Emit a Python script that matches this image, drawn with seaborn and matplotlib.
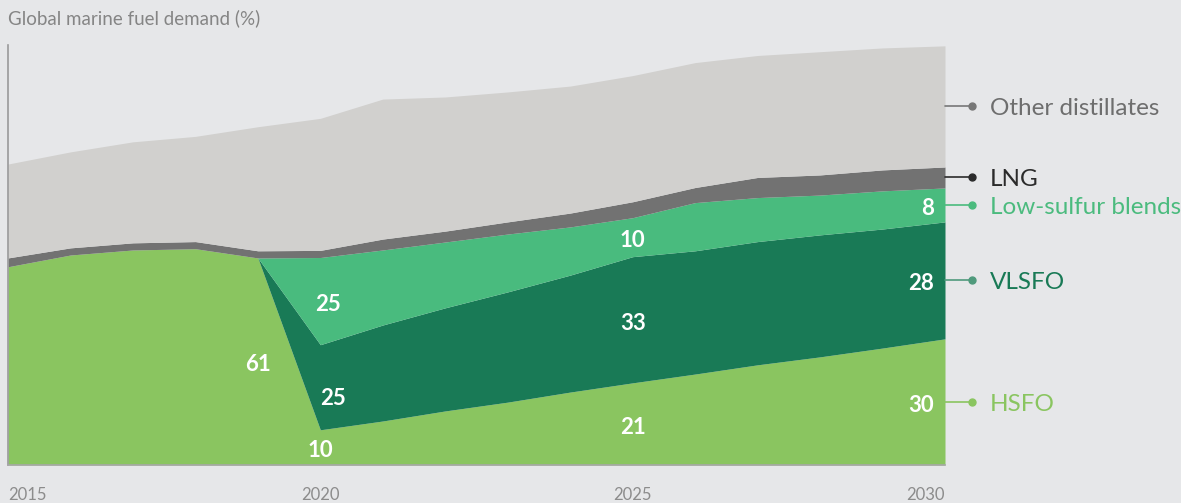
import numpy as np
import matplotlib
matplotlib.use("Agg")
import matplotlib.pyplot as plt
import seaborn as sns

# demand index (2030 total = 100)
years = np.arange(2015, 2031)
hsfo = [47.3, 50.1, 51.3, 51.6, 49.4, 8.4, 10.5, 12.9, 15.0, 17.4, 19.6, 21.7, 23.9, 25.8, 27.9, 30.1]
vlsfo = [0, 0, 0, 0, 0, 20.3, 22.9, 24.6, 26.3, 27.9, 30.1, 29.4, 29.4, 29.1, 28.4, 27.9]
ls_blends = [0, 0, 0, 0, 0, 20.8, 17.9, 15.7, 13.8, 11.5, 9.3, 11.5, 10.5, 9.5, 9.1, 8.1]
lng = [2.1, 1.7, 1.7, 1.7, 1.7, 1.7, 2.6, 2.6, 2.9, 3.3, 3.8, 3.6, 4.8, 4.8, 5.0, 5.0]
other = [22.4, 22.9, 24.1, 25.1, 29.6, 31.5, 33.4, 32.0, 31.0, 30.3, 30.1, 29.8, 29.1, 29.4, 29.1, 28.9]

series_names = ["HSFO", "VLSFO", "Low-sulfur blends", "LNG", "Other distillates"]
fill_colors = ["#8ac560", "#197a56", "#49bb7e", "#727272", "#d1d0ce"]
text_colors = ["#8ac560", "#197a56", "#4bbb7e", "#2b2b2b", "#6e6e6e"]
line_colors = ["#8ac560", "#4f9a7c", "#4bbb7e", "#2b2b2b", "#777777"]

# share labels (%): (series index, year, text)
share_labels = [
    (0, 2019, "61"),
    (1, 2020, "25"), (2, 2020, "25"), (0, 2020, "10"),
    (0, 2025, "21"), (1, 2025, "33"), (2, 2025, "10"),
    (0, 2030, "30"), (1, 2030, "28"), (2, 2030, "8"),
]
tick_years = [2015, 2020, 2025, 2030]

sns.set_theme(style="white")
plt.rcParams["font.family"] = ["Lato", "DejaVu Sans"]
bg = "#e6e7e9"

fig = plt.figure(figsize=(11.81, 5.03), dpi=100, facecolor=bg)
ax = fig.add_axes([8 / 1181, 38 / 503, 937 / 1181, 420 / 503])
ax.set_facecolor(bg)

data = np.array([hsfo, vlsfo, ls_blends, lng, other])
ax.stackplot(years, data, colors=fill_colors, linewidth=0)

ax.set_xlim(2015, 2030)
ax.set_ylim(0, 100.2)
ax.set_yticks([])
ax.set_xticks(tick_years)
ax.set_xticklabels([str(y) for y in tick_years], fontsize=12, color="#8c8c8c")
for lab, ha in zip(ax.get_xticklabels(), ["left", "center", "center", "right"]):
    lab.set_ha(ha)
ax.tick_params(axis="x", length=0, pad=16)

sns.despine(ax=ax, top=True, right=True)
ax.spines["left"].set_color("#9a9a9a")
ax.spines["bottom"].set_color("#a8a8a8")
ax.spines["left"].set_linewidth(1.2)
ax.spines["bottom"].set_linewidth(1.2)

cum = np.cumsum(data, axis=0)
base = np.vstack([np.zeros(len(years)), cum[:-1]])
mid = base + data / 2

for idx, yr, txt in share_labels:
    i = yr - 2015
    xpos, ha = (yr - 0.18, "right") if yr == 2030 else (yr, "center")
    if yr == 2020 and idx == 1:
        xpos = yr + 0.2
    elif yr == 2020 and idx == 2:
        xpos = yr + 0.13
    ypos = mid[idx, i] - (2.0 if (yr == 2020 and idx == 1) else 0) - 0.8
    ax.text(xpos, ypos, txt, ha=ha, va="center", color="white",
            fontsize=16, fontweight="bold")

# right-hand legend with connectors
tr = ax.get_yaxis_transform()
for k, name in enumerate(series_names):
    y = mid[k, -1]
    ax.plot([1.0, 1.0288], [y, y], transform=tr, color=line_colors[k], lw=1.2, clip_on=False)
    ax.plot([1.0288], [y], transform=tr, marker="o", ms=5, color=line_colors[k], clip_on=False)
    ax.text(1.048, y - 0.5, name, transform=tr, ha="left", va="center",
            fontsize=17.5, color=text_colors[k])

fig.text(8 / 1181, 1 - 18 / 503, "Global marine fuel demand (%)", ha="left", va="center",
         fontsize=13.5, color="#858585")

fig.savefig("out.png", dpi=100, facecolor=bg)
